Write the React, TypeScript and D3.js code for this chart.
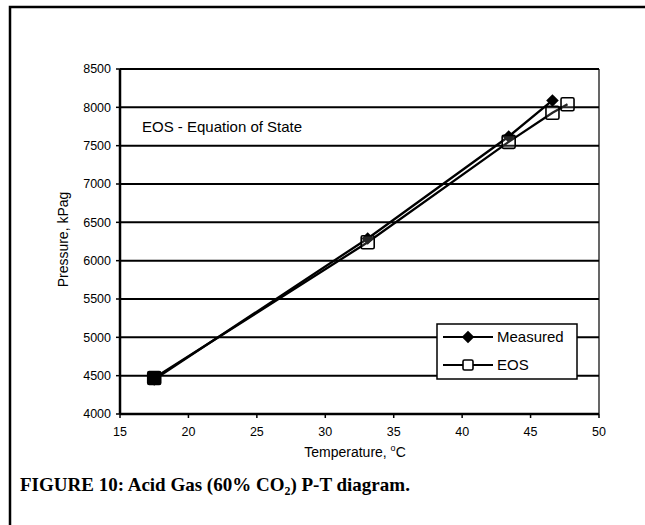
import * as d3 from 'd3'

const WIDTH = 645
const HEIGHT = 525
const MARGIN = { top: 69, right: 46, bottom: 111, left: 120 }

const xTicks = [15, 20, 25, 30, 35, 40, 45, 50]
const yTicks = [4000, 4500, 5000, 5500, 6000, 6500, 7000, 7500, 8000, 8500]

// Measured
const measuredT = [17.5, 33.1, 43.4, 46.6]
const measuredP = [4450, 6290, 7620, 8090]

// EOS - Equation of State
const eosT = [17.5, 33.1, 43.4, 46.6, 47.7]
const eosP = [4470, 6240, 7550, 7930, 8040]

const FONT = 'Arial, "Liberation Sans", sans-serif'

export default function App() {
  const innerWidth = WIDTH - MARGIN.left - MARGIN.right
  const innerHeight = HEIGHT - MARGIN.top - MARGIN.bottom

  const xScale = d3.scaleLinear().domain([15, 50]).range([0, innerWidth])
  const yScale = d3.scaleLinear().domain([4000, 8500]).range([innerHeight, 0])

  const line = d3.line<[number, number]>()
    .x(d => xScale(d[0]))
    .y(d => yScale(d[1]))

  const measured: [number, number][] = measuredT.map((t, i) => [t, measuredP[i]])
  const eos: [number, number][] = eosT.map((t, i) => [t, eosP[i]])

  const diamond = d3.symbol().type(d3.symbolDiamond2).size(100)()

  return (
    <svg
      width={WIDTH}
      height={HEIGHT}
      style={{ position: 'absolute', left: 0, top: 0, background: 'white' }}
    >
      {/* outer frame */}
      <rect x={10} y={7} width={700} height={600} fill="none" stroke="black" strokeWidth={2.5} />

      <g transform={`translate(${MARGIN.left}, ${MARGIN.top})`}>
        {/* gridlines */}
        {yTicks.map(t => (
          <line key={t} x1={0} x2={innerWidth} y1={yScale(t)} y2={yScale(t)} stroke="black" strokeWidth={2} />
        ))}
        {/* right border */}
        <line x1={innerWidth} x2={innerWidth} y1={0} y2={innerHeight} stroke="black" strokeWidth={1.2} />
        {/* axes */}
        <line x1={0} x2={0} y1={0} y2={innerHeight} stroke="black" strokeWidth={2.5} />
        <line x1={0} x2={innerWidth} y1={innerHeight} y2={innerHeight} stroke="black" strokeWidth={2.5} />

        {/* y ticks */}
        {yTicks.map(t => (
          <g key={t} transform={`translate(0, ${yScale(t)})`}>
            <line x1={-4} x2={0} stroke="black" strokeWidth={1.5} />
            <text x={-9} dy="0.35em" textAnchor="end" fontFamily={FONT} fontSize={12.5} fill="black">{t}</text>
          </g>
        ))}
        {/* x ticks */}
        {xTicks.map(t => (
          <g key={t} transform={`translate(${xScale(t)}, ${innerHeight})`}>
            <line y1={0} y2={4} stroke="black" strokeWidth={1.5} />
            <text y={22} textAnchor="middle" fontFamily={FONT} fontSize={12.5} fill="black">{t}</text>
          </g>
        ))}

        {/* series lines */}
        <path d={line(eos) ?? ''} fill="none" stroke="black" strokeWidth={2.3} />
        <path d={line(measured) ?? ''} fill="none" stroke="black" strokeWidth={2.3} />

        {/* markers */}
        {measured.map((d, i) => (
          <path key={i} d={diamond ?? ''} transform={`translate(${xScale(d[0])}, ${yScale(d[1])})`} fill="black" />
        ))}
        {eos.map((d, i) => (
          <rect
            key={i}
            x={xScale(d[0]) - 6.5}
            y={yScale(d[1]) - 6.5}
            width={13}
            height={13}
            rx={1.5}
            fill={i === 0 ? 'black' : 'white'}
            fillOpacity={i === 0 ? 1 : 0.15}
            stroke="black"
            strokeWidth={1.6}
          />
        ))}

        <text x={22} y={63} fontFamily={FONT} fontSize={15} fill="black">EOS - Equation of State</text>

        {/* legend */}
        <g transform={`translate(${437 - MARGIN.left}, ${324 - MARGIN.top})`}>
          <rect x={0} y={0} width={140} height={55} fill="white" stroke="black" strokeWidth={1.5} />
          <line x1={6} x2={56} y1={13} y2={13} stroke="black" strokeWidth={2} />
          <path d={diamond ?? ''} transform="translate(31, 13)" fill="black" />
          <text x={60} y={13} dy="0.35em" fontFamily={FONT} fontSize={15} fill="black">Measured</text>
          <line x1={6} x2={56} y1={41} y2={41} stroke="black" strokeWidth={2} />
          <rect x={26} y={36} width={10} height={10} rx={1.5} fill="white" stroke="black" strokeWidth={1.6} />
          <text x={60} y={41} dy="0.35em" fontFamily={FONT} fontSize={15} fill="black">EOS</text>
        </g>
      </g>

      {/* axis titles */}
      <text
        transform={`translate(68, ${MARGIN.top + innerHeight / 2 - 2}) rotate(-90)`}
        textAnchor="middle"
        fontFamily={FONT}
        fontSize={14}
        fill="black"
      >
        Pressure, kPag
      </text>
      <text x={355} y={457} textAnchor="middle" fontFamily={FONT} fontSize={14} fill="black">
        Temperature, <tspan dy={-6} fontSize={9}>o</tspan><tspan dy={6}>C</tspan>
      </text>

      {/* caption */}
      <text x={20} y={491} fontFamily='"Liberation Serif", "Times New Roman", serif' fontWeight="bold" fontSize={19} fill="black">
        FIGURE 10: Acid Gas (60% CO<tspan dy={4} fontSize={12}>2</tspan><tspan dy={-4}>) P-T diagram.</tspan>
      </text>
    </svg>
  )
}
